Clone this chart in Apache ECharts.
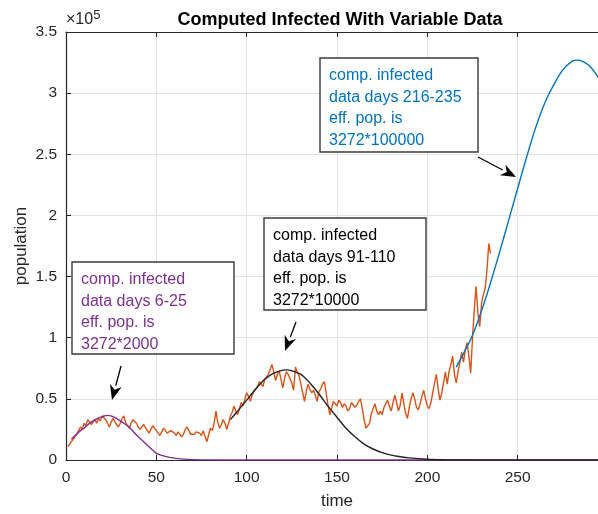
<!DOCTYPE html>
<html><head><meta charset="utf-8">
<script src="https://cdn.jsdelivr.net/npm/echarts@6/dist/echarts.min.js"></script>
<style>html,body{margin:0;padding:0;background:#fff}#c{width:598px;height:514px}</style>
</head><body><div id="c"></div>
<script>
// ---- data (population in units of 1e5) ----
const dataFirstDay = 1;
const dataInfected = [
  0.11,0.13,0.15,0.17,0.19,0.21,0.24,0.27,0.25,0.30,
  0.28,0.33,0.31,0.29,0.31,0.33,0.30,0.34,0.32,0.36,
  0.37,0.33,0.30,0.27,0.31,0.34,0.33,0.29,0.27,0.30,
  0.34,0.36,0.31,0.28,0.26,0.30,0.33,0.34,0.30,0.27,
  0.25,0.27,0.29,0.28,0.24,0.22,0.25,0.28,0.27,0.24,
  0.22,0.20,0.23,0.26,0.25,0.22,0.21,0.24,0.25,0.22,
  0.20,0.23,0.22,0.19,0.21,0.25,0.27,0.24,0.21,0.22,
  0.21,0.23,0.24,0.22,0.20,0.24,0.19,0.15,0.21,0.26,
  0.24,0.30,0.40,0.31,0.26,0.29,0.33,0.30,0.25,0.30,
  0.36,0.39,0.44,0.40,0.37,0.42,0.47,0.44,0.50,0.55,
  0.52,0.48,0.53,0.56,0.55,0.60,0.64,0.62,0.60,0.66,
  0.68,0.70,0.74,0.78,0.72,0.65,0.70,0.73,0.66,0.59,
  0.67,0.72,0.70,0.69,0.63,0.57,0.76,0.72,0.69,0.62,
  0.55,0.48,0.56,0.62,0.58,0.55,0.57,0.53,0.48,0.56,
  0.58,0.62,0.64,0.55,0.45,0.37,0.42,0.48,0.49,0.44,
  0.49,0.47,0.43,0.46,0.44,0.40,0.42,0.47,0.45,0.43,
  0.45,0.48,0.50,0.42,0.33,0.26,0.25,0.30,0.38,0.42,
  0.46,0.40,0.37,0.40,0.37,0.43,0.46,0.49,0.44,0.40,
  0.47,0.53,0.47,0.40,0.45,0.55,0.46,0.38,0.34,0.43,
  0.50,0.55,0.50,0.43,0.41,0.46,0.52,0.57,0.50,0.44,
  0.42,0.47,0.55,0.63,0.70,0.58,0.49,0.55,0.63,0.72,
  0.62,0.72,0.78,0.85,0.70,0.63,0.72,0.80,0.88,0.80,
  0.90,0.96,0.85,0.71,1.00,1.23,1.42,1.20,1.09,1.28,
  1.35,1.40,1.55,1.77,1.69
];
const fit1Days = [3,5,8,10,13,15,18,20,23,26,28,30,33,35,38,40,43,45,48,50,55,60,65,70,80,90,100,150,200,250,300];
const fit1Vals = [0.17,0.20,0.24,0.26,0.30,0.32,0.345,0.355,0.365,0.355,0.34,0.32,0.29,0.27,0.22,0.19,0.15,0.12,0.08,0.055,0.03,0.015,0.007,0.003,0.001,0,0,0,0,0,0];
const fit2Days = [91,95,100,105,110,115,120,122,125,130,135,140,145,150,155,160,165,170,175,180,185,190,200,210,220,250,300];
const fit2Vals = [0.33,0.40,0.49,0.58,0.66,0.71,0.735,0.737,0.73,0.70,0.63,0.54,0.44,0.35,0.26,0.19,0.13,0.09,0.06,0.04,0.027,0.017,0.006,0.002,0.001,0,0];
const fit3Days = [216,220,225,230,235,240,245,250,255,260,265,270,275,280,283,286,290,295,300];
const fit3Vals = [0.76,0.87,1.02,1.22,1.45,1.70,1.96,2.22,2.48,2.72,2.92,3.07,3.19,3.26,3.27,3.26,3.22,3.12,2.98];
const yTickLabels = ['0','0.5','1','1.5','2','2.5','3','3.5'];
const xTickLabels = ['0','50','100','150','200','250',''];

const pairs = (xs, ys) => ys.map((v, i) => [xs[i], v]);
const dataPairs = dataInfected.map((v, i) => [dataFirstDay + i, v]);

const FONT = '"Liberation Sans", Arial, Helvetica, sans-serif';
const AX = '#262626';
const chart = echarts.init(document.getElementById('c'), null, {renderer: 'canvas'});

function arrow(x1, y1, x2, y2) {
  const a = Math.atan2(y2 - y1, x2 - x1), L = 15, W = 6;
  const bx = x2 - L * Math.cos(a), by = y2 - L * Math.sin(a);
  const px = -Math.sin(a), py = Math.cos(a);
  return [
    {type: 'line', shape: {x1, y1, x2: bx, y2: by}, style: {stroke: '#000', lineWidth: 1.3}, z: 100},
    {type: 'polygon', shape: {points: [[x2, y2], [bx + W * px, by + W * py], [x2 - 0.7*L*Math.cos(a), y2 - 0.7*L*Math.sin(a)], [bx - W * px, by - W * py]]}, style: {fill: '#000'}, z: 100}
  ];
}
function box(x, y, w, h, tx, ty, text, color) {
  return [
    {type: 'rect', shape: {x, y, width: w, height: h}, style: {fill: '#fff', stroke: '#3a3a3a', lineWidth: 1.4}, z: 90},
    {type: 'text', x: tx, y: ty, style: {text, fill: color, font: '16px ' + FONT, lineHeight: 21.5, verticalAlign: 'top'}, z: 91}
  ];
}

const option = {
  backgroundColor: '#fff',
  animation: false,
  title: {text: 'Computed Infected With Variable Data', left: 335, top: 6, textAlign: 'center',
    textStyle: {fontFamily: FONT, fontSize: 18, fontWeight: 'bold', color: '#000'}},
  grid: {left: 66, top: 32, right: -10, bottom: 54, containLabel: false, outerBoundsMode: 'none'},
  xAxis: [{
    type: 'value', min: 0, max: 300, interval: 50, position: 'bottom',
    name: 'time', nameLocation: 'middle', nameGap: 33, nameMoveOverlap: false,
    nameTextStyle: {fontFamily: FONT, fontSize: 17, color: AX},
    axisLine: {show: true, onZero: false, lineStyle: {color: AX, width: 1.2}},
    axisTick: {show: true, inside: true, length: 5, lineStyle: {color: AX}},
    axisLabel: {fontFamily: FONT, fontSize: 15.5, color: AX, margin: 10,
      formatter: (v) => xTickLabels[Math.round(v / 50)] || ''},
    splitLine: {show: true, lineStyle: {color: '#e3e3e3', width: 1}}
  }, {
    type: 'value', min: 0, max: 300, interval: 50, position: 'top',
    axisLine: {show: true, onZero: false, lineStyle: {color: AX, width: 1.2}},
    axisTick: {show: true, inside: true, length: 5, lineStyle: {color: AX}},
    axisLabel: {show: false}, splitLine: {show: false}
  }],
  yAxis: {
    type: 'value', min: 0, max: 3.5, interval: 0.5,
    name: 'population', nameLocation: 'middle', nameGap: 36, nameRotate: 90, nameMoveOverlap: false,
    nameTextStyle: {fontFamily: FONT, fontSize: 17, color: AX},
    axisLine: {show: true, onZero: false, lineStyle: {color: AX, width: 1.2}},
    axisTick: {show: true, inside: true, length: 5, lineStyle: {color: AX}},
    axisLabel: {fontFamily: FONT, fontSize: 15.5, color: AX, margin: 9,
      formatter: (v) => yTickLabels[Math.round(v / 0.5)]},
    splitLine: {show: true, lineStyle: {color: '#e3e3e3', width: 1}}
  },
  series: [
    {type: 'line', data: dataPairs, showSymbol: false, lineStyle: {color: '#D95319', width: 1.4}, z: 3},
    {type: 'line', data: pairs(fit1Days, fit1Vals), showSymbol: false, smooth: 0.3, lineStyle: {color: '#7E2F8E', width: 1.4}, z: 4},
    {type: 'line', data: pairs(fit2Days, fit2Vals), showSymbol: false, smooth: 0.3, lineStyle: {color: '#222', width: 1.4}, z: 5},
    {type: 'line', data: pairs(fit3Days, fit3Vals), showSymbol: false, smooth: 0.3, lineStyle: {color: '#0072BD', width: 1.4}, z: 6}
  ],
  graphic: [
    {type: 'text', x: 66, y: 9, style: {text: '{a|×10}{b|5}', font: '16px ' + FONT, fill: AX,
      rich: {a: {fontSize: 16, fontFamily: FONT, fill: AX}, b: {fontSize: 13, fontFamily: FONT, fill: AX, verticalAlign: 'top', padding: [0,0,9,0]}}}},
    ...box(320, 58, 158, 94, 329, 65, 'comp. infected\ndata days 216-235\neff. pop. is\n3272*100000', '#0072BD'),
    ...box(264, 218, 162, 92, 273, 225, 'comp. infected\ndata days 91-110\neff. pop. is\n3272*10000', '#000'),
    ...box(72, 262, 162, 92, 81, 269, 'comp. infected\ndata days 6-25\neff. pop. is\n3272*2000', '#7E2F8E'),
    ...arrow(121, 366, 112, 400),
    ...arrow(296, 322, 285, 351),
    ...arrow(478, 157, 516, 177)
  ]
};
chart.setOption(option);
</script></body></html>
